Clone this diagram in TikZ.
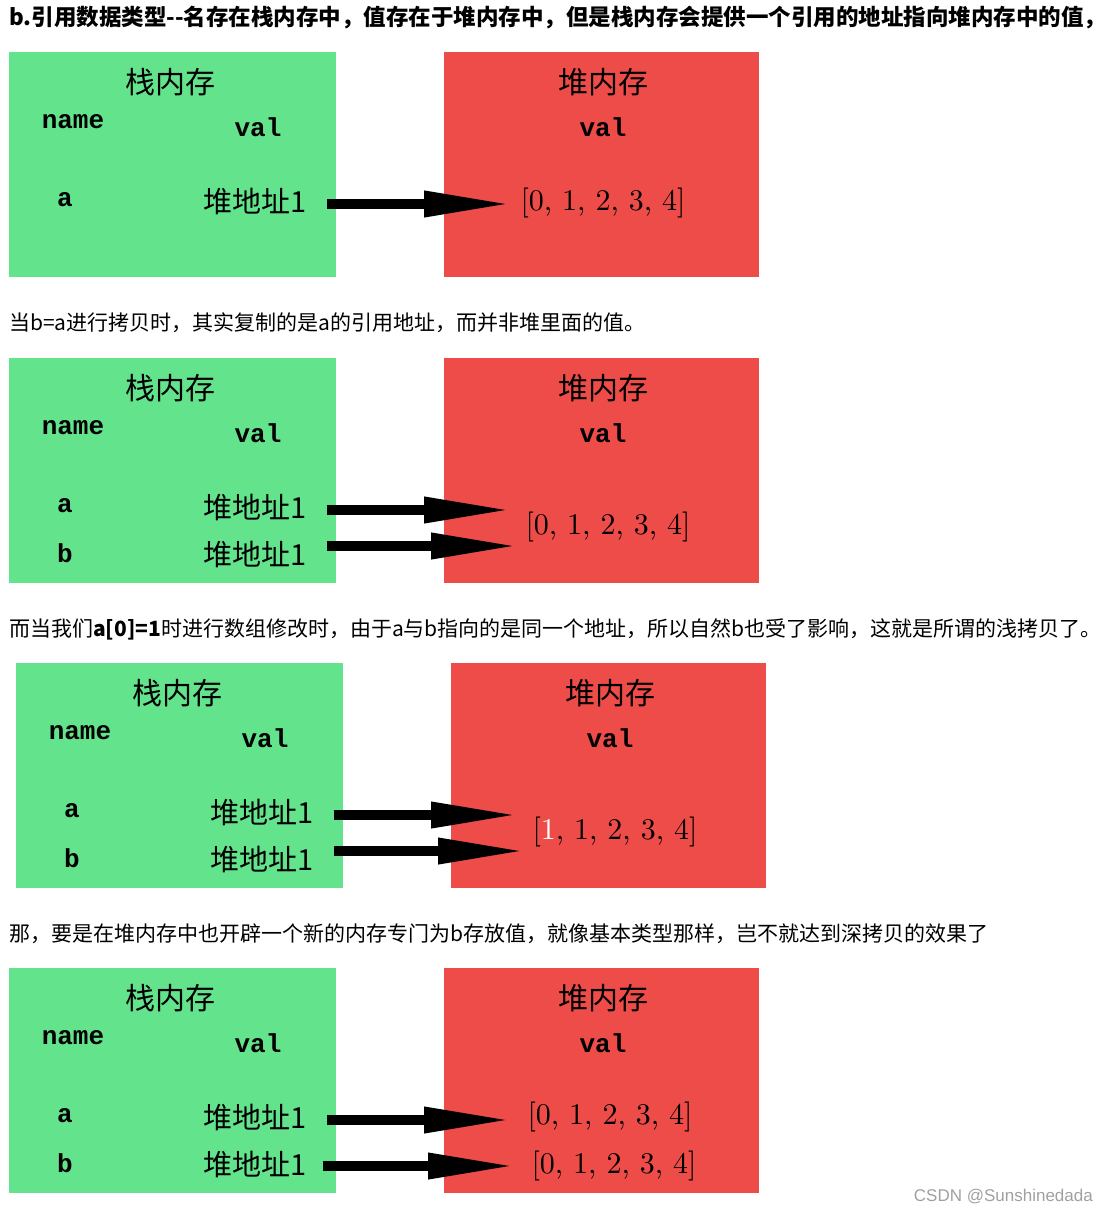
\documentclass[tikz,border=0pt]{standalone}
\usepackage{fontspec}
\newfontfamily\cjk{Noto Sans CJK SC}
\newfontfamily\monofont{Liberation Mono}
\newfontfamily\markfont{Liberation Sans}
\newfontfamily\arrfont[Extension=.otf]{lmroman10-regular}
\usetikzlibrary{arrows.meta}
\definecolor{stackgreen}{RGB}{99,227,140}
\definecolor{heapred}{RGB}{238,76,73}
\definecolor{markgray}{RGB}{160,160,160}

\begin{document}
\begin{tikzpicture}
  [x=1pt, y=-1pt,
   every node/.style = {inner sep=0pt},
   stackbox/.style = {fill=stackgreen},
   heapbox/.style = {fill=heapred},
   boxtitle/.style = {font=\cjk\fontsize{30}{36}\selectfont},
   colhead/.style = {font=\monofont\bfseries\fontsize{26}{30}\selectfont},
   varname/.style = {font=\monofont\bfseries\fontsize{26}{30}\selectfont},
   addrtext/.style = {font=\cjk\fontsize{29}{34}\selectfont},
   arraytext/.style = {font=\arrfont\fontsize{30}{36}\selectfont},
   ptr/.style = {line width=10pt, -{Triangle[length=88pt,width=24pt]}},
   caption/.style = {anchor=west, font=\cjk\fontsize{21}{25}\selectfont},
   watermark/.style = {anchor=east, text=markgray, font=\markfont\fontsize{17}{20}\selectfont}]
  \useasboundingbox (0,0) rectangle (1107,1214);

  % captions
  \node (cap1) [caption] at (9,18)
    {\fontsize{22.5}{26}\selectfont\bfseries b.引用数据类型--名存在栈内存中，值存在于堆内存中，但是栈内存会提供一个引用的地址指向堆内存中的值，};
  \node (cap2) [caption] at (9,323) {当b=a进行拷贝时，其实复制的是a的引用地址，而并非堆里面的值。};
  \node (cap3) [caption] at (9,629)
    {而当我们\textbf{a[0]=1}时进行数组修改时，由于a与b指向的是同一个地址，所以自然b也受了影响，这就是所谓的浅拷贝了。};
  \node (cap4) [caption] at (9,934) {那，要是在堆内存中也开辟一个新的内存专门为b存放值，就像基本类型那样，岂不就达到深拷贝的效果了};

  % the two memory boxes of each panel
  \foreach \p/\dx/\dy in {1/0/52, 2/0/358, 3/7/663, 4/0/968}
  {
    \begin{scope}[shift={(\dx,\dy)}]
      \fill[stackbox] (9,0) rectangle (336,225);
      \fill[heapbox] (444,0) rectangle (759,225);
      \node (st\p) [boxtitle] at (170,30) {栈内存};
      \node (stn\p) [colhead] at (73,70) {name};
      \node (stv\p) [colhead] at (258,75) {val};
      \node (hp\p) [boxtitle] at (603,30) {堆内存};
      \node (hpv\p) [colhead] at (603,75) {val};
    \end{scope}
  }

  % panel 1
  \begin{scope}[shift={(0,52)}]
    \node (p1a) [varname] at (65,148) {a};
    \node (p1addr) [addrtext] at (255,149) {堆地址1};
    \node (p1arr) [arraytext] at (603,151) {[0, 1, 2, 3, 4]};
    \coordinate (p1tip) at (512,152);
  \end{scope}
  \draw[ptr] ([xshift=20pt]p1addr.east |- p1tip) -- (p1tip);

  % panel 2
  \begin{scope}[shift={(0,358)}]
    \node (p2a) [varname] at (65,148) {a};
    \node (p2b) [varname] at (65,195) {b};
    \node (p2addra) [addrtext] at (255,149) {堆地址1};
    \node (p2addrb) [addrtext] at (255,196) {堆地址1};
    \node (p2arr) [arraytext] at (608,169) {[0, 1, 2, 3, 4]};
    \coordinate (p2tipa) at (512,152);
    \coordinate (p2tipb) at (519,188);
  \end{scope}
  \draw[ptr] ([xshift=20pt]p2addra.east |- p2tipa) -- (p2tipa);
  \draw[ptr] ([xshift=20pt]p2addrb.east |- p2tipb) -- (p2tipb);

  % panel 3
  \begin{scope}[shift={(7,663)}]
    \node (p3a) [varname] at (65,148) {a};
    \node (p3b) [varname] at (65,195) {b};
    \node (p3addra) [addrtext] at (255,149) {堆地址1};
    \node (p3addrb) [addrtext] at (255,196) {堆地址1};
    \node (p3arr) [arraytext] at (608,169) {[\textcolor{white}{1}, 1, 2, 3, 4]};
    \coordinate (p3tipa) at (512,152);
    \coordinate (p3tipb) at (519,188);
  \end{scope}
  \draw[ptr] ([xshift=20pt]p3addra.east |- p3tipa) -- (p3tipa);
  \draw[ptr] ([xshift=20pt]p3addrb.east |- p3tipb) -- (p3tipb);

  % panel 4
  \begin{scope}[shift={(0,968)}]
    \node (p4a) [varname] at (65,148) {a};
    \node (p4b) [varname] at (65,195) {b};
    \node (p4addra) [addrtext] at (255,149) {堆地址1};
    \node (p4addrb) [addrtext] at (255,196) {堆地址1};
    \node (p4arra) [arraytext] at (610,149) {[0, 1, 2, 3, 4]};
    \node (p4arrb) [arraytext] at (614,198) {[0, 1, 2, 3, 4]};
    \coordinate (p4tipa) at (512,152);
    \coordinate (p4tipb) at (516,198);
  \end{scope}
  \draw[ptr] ([xshift=20pt]p4addra.east |- p4tipa) -- (p4tipa);
  \draw[ptr] ([xshift=16pt]p4addrb.east |- p4tipb) -- (p4tipb);

  \node (mark) [watermark] at (1093,1197) {CSDN @Sunshinedada};
\end{tikzpicture}
\end{document}
